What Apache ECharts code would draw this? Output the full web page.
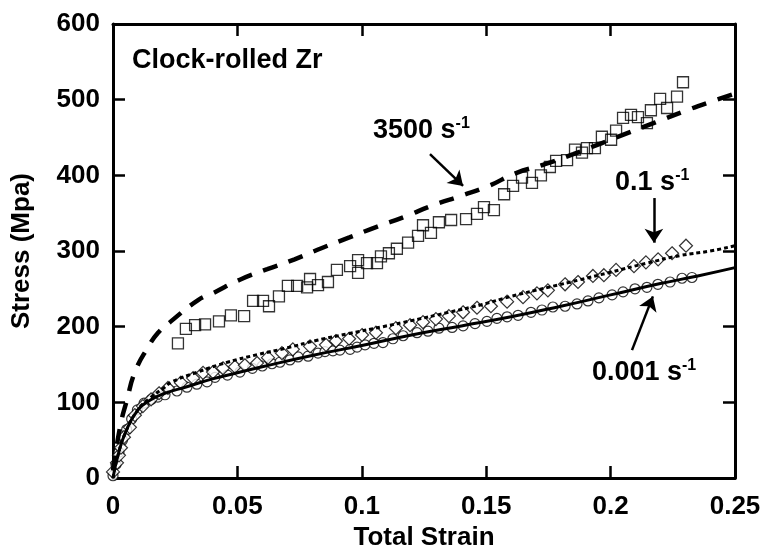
<!DOCTYPE html>
<html>
<head>
<meta charset="UTF-8">
<title>Clock-rolled Zr</title>
<script src="https://cdn.jsdelivr.net/npm/echarts@6/dist/echarts.min.js"></script>
<style>
html, body { margin: 0; padding: 0; background: #fff; }
#main { width: 763px; height: 553px; }
</style>
</head>
<body>
<div id="main"></div>
<script>
// strain / stress (MPa)
var sq3500 = [[0.0261,178],[0.0293,197],[0.0330,202],[0.0370,203],[0.0426,207],[0.0474,215],[0.0527,214],
  [0.0563,234],[0.0603,234],[0.0627,227],[0.0667,240],[0.0703,254],[0.0740,254],[0.0780,252],[0.0792,263],
  [0.0824,255],[0.0864,259],[0.0900,275],[0.0953,280],[0.0985,288],[0.0985,271],[0.1021,284],[0.1061,284],
  [0.1077,293],[0.1109,297],[0.1141,303],[0.1186,311],[0.1226,320],[0.1246,334],[0.1278,324],[0.1310,338],
  [0.1359,341],[0.1419,342],[0.1463,349],[0.1491,358],[0.1531,354],[0.1572,375],[0.1608,386],[0.1644,397],
  [0.1684,390],[0.1720,400],[0.1756,411],[0.1781,419],[0.1825,420],[0.1857,434],[0.1885,430],[0.1905,436],
  [0.1937,436],[0.1965,451],[0.2002,447],[0.2022,459],[0.2050,476],[0.2082,480],[0.2110,477],[0.2146,469],
  [0.2162,486],[0.2199,501],[0.2227,489],[0.2267,504],[0.2291,523]];
var fit3500 = [[0,10],[0.003,70],[0.0056,103],[0.0088,140],[0.0141,173],[0.0181,192],[0.0229,206],[0.0342,235],
  [0.040,244],[0.051,262],[0.062,276],[0.073,289],[0.084,304],[0.095,318],[0.106,332],[0.117,345],[0.129,361],
  [0.140,373],[0.151,386],[0.162,403],[0.173,414],[0.185,428],[0.196,442],[0.207,456],[0.218,470],[0.229,484],
  [0.240,497],[0.25,508]];
var dia01 = [[0,8],[0.0016,20],[0.0024,30],[0.0032,40],[0.0044,54],[0.0068,67],[0.0088,83],[0.012,95],
  [0.0153,104],[0.0185,112],[0.0221,119],[0.0273,126],[0.0322,132],[0.0362,139],[0.0402,140],[0.0442,145],
  [0.049,147],[0.053,149],[0.0579,152],[0.0623,159],[0.0679,165],[0.0723,170],[0.0792,174],[0.0856,176],
  [0.0896,181],[0.0949,184],[0.1001,189],[0.1057,192],[0.1137,198],[0.1194,202],[0.1246,206],[0.1298,210],
  [0.1350,214],[0.1407,219],[0.1463,225],[0.1519,227],[0.1584,233],[0.1648,239],[0.1704,244],[0.1748,248],
  [0.1817,256],[0.1869,259],[0.1929,267],[0.1973,268],[0.2022,275],[0.2094,280],[0.2142,285],[0.2191,289],
  [0.2247,297],[0.2303,307]];
var fit01 = [[0,0],[0.002,30],[0.005,60],[0.01,90],[0.015,106],[0.02,118],[0.0237,127],[0.034,140],[0.046,153],
  [0.058,163],[0.07,172],[0.082,182],[0.095,191],[0.1085,200],[0.12,208],[0.135,219],[0.148,229],[0.16,240],
  [0.175,252],[0.1877,262],[0.2,272],[0.2146,284],[0.228,294],[0.24,300],[0.25,307]];
var cir0001 = [[0,3],[0.0012,18],[0.0024,34],[0.0038,50],[0.0055,64],[0.0075,78],[0.0098,90],[0.0125,99],
  [0.0155,104],[0.018,107],[0.0209,110],[0.0257,115],[0.0297,120],[0.0337,124],[0.0378,127],[0.0410,133],
  [0.046,136],[0.051,140],[0.0560,145],[0.0600,148],[0.0639,151],[0.0671,153],[0.0711,156],[0.0744,160],
  [0.0784,161],[0.0824,165],[0.0852,167],[0.0884,168],[0.0912,169],[0.0953,170],[0.0981,173],[0.1013,176],
  [0.1049,178],[0.1085,179],[0.1125,184],[0.1166,188],[0.1222,192],[0.1266,194],[0.131,198],[0.1363,199],
  [0.1407,201],[0.1455,204],[0.1503,207],[0.1543,211],[0.1584,213],[0.1628,215],[0.168,219],[0.1724,222],
  [0.1768,226],[0.1817,227],[0.1865,230],[0.1909,234],[0.1953,238],[0.2006,242],[0.205,246],[0.2098,250],
  [0.2146,252],[0.219,256],[0.2239,259],[0.2287,264],[0.2327,265]];
var fit0001 = [[0,0],[0.002,30],[0.005,60],[0.01,90],[0.015,103],[0.02,111],[0.03,121],[0.04,131],[0.05,139],
  [0.06,147],[0.08,162],[0.1,175],[0.12,189],[0.14,201],[0.16,213],[0.18,227],[0.2,242],[0.22,257],
  [0.235,267],[0.25,278]];

// annotation anchors (data coordinates)
var arrows = [
  [[0.1274, 428], [0.1407, 386]],
  [[0.2174, 370], [0.2174, 311]],
  [[0.2086, 169], [0.2170, 240]]
];
var notes = [
  { at: [0.0076, 550], main: 'Clock-rolled Zr', sup: '' },
  { at: [0.1045, 459], main: '3500 s', sup: '-1' },
  { at: [0.2018, 390], main: '0.1 s', sup: '-1' },
  { at: [0.1925, 139], main: '0.001 s', sup: '-1' }
];

var font = 'Liberation Sans, Arial, Helvetica, sans-serif';
var chart = echarts.init(document.getElementById('main'));

var axisCommon = {
  axisLine: { onZero: false, lineStyle: { color: '#000', width: 3 } },
  axisTick: { inside: true, length: 12, lineStyle: { color: '#000', width: 2.5 } },
  splitLine: { show: false }
};

var option = {
  animation: false,
  backgroundColor: '#fff',
  grid: { left: 113, right: 28, top: 24, bottom: 75, containLabel: false, outerBoundsMode: 'none' },
  xAxis: [
    Object.assign({}, axisCommon, {
      type: 'value', min: 0, max: 0.25, interval: 0.05, position: 'bottom',
      name: 'Total Strain', nameLocation: 'middle', nameGap: 45,
      nameTextStyle: { fontFamily: font, fontWeight: 'bold', fontSize: 26, color: '#000' },
      axisLabel: { margin: 16, fontFamily: font, fontWeight: 'bold', fontSize: 26, color: '#000' }
    }),
    Object.assign({}, axisCommon, {
      type: 'value', min: 0, max: 0.25, interval: 0.05, position: 'top',
      axisLabel: { show: false }
    })
  ],
  yAxis: [
    Object.assign({}, axisCommon, {
      type: 'value', min: 0, max: 600, interval: 100, position: 'left',
      name: 'Stress (Mpa)', nameLocation: 'middle', nameGap: 78,
      nameTextStyle: { fontFamily: font, fontWeight: 'bold', fontSize: 26, color: '#000' },
      axisLabel: { margin: 13, fontFamily: font, fontWeight: 'bold', fontSize: 26, color: '#000' }
    }),
    Object.assign({}, axisCommon, {
      type: 'value', min: 0, max: 600, interval: 100, position: 'right',
      axisLabel: { show: false }
    })
  ],
  series: [
    { type: 'line', data: fit3500, smooth: true, symbol: 'none',
      lineStyle: { color: '#000', width: 4.5, type: [15, 12], cap: 'butt' } },
    { type: 'line', data: fit01, smooth: true, symbol: 'none',
      lineStyle: { color: '#000', width: 3, type: [4, 3], cap: 'butt' } },
    { type: 'line', data: fit0001, smooth: true, symbol: 'none',
      lineStyle: { color: '#000', width: 3 } },
    { type: 'scatter', data: sq3500, symbol: 'rect', symbolSize: 11,
      itemStyle: { color: 'rgba(255,255,255,0)', borderColor: '#000', borderWidth: 1.3 } },
    { type: 'scatter', data: cir0001, symbol: 'circle', symbolSize: 10,
      itemStyle: { color: '#fff', borderColor: '#000', borderWidth: 1.2 } },
    { type: 'scatter', data: dia01, symbol: 'diamond', symbolSize: 13,
      itemStyle: { color: '#fff', borderColor: '#000', borderWidth: 1.2 } },
    { type: 'line', data: [], symbol: 'none',
      markLine: {
        silent: true, symbol: ['none', 'arrow'], symbolSize: 14,
        label: { show: false },
        lineStyle: { color: '#000', width: 2.5, type: 'solid' },
        data: arrows.map(function (a) { return [{ coord: a[0] }, { coord: a[1] }]; })
      } }
  ]
};
chart.setOption(option);

var graphics = notes.map(function (n) {
  var p = chart.convertToPixel({ xAxisIndex: 0, yAxisIndex: 0 }, n.at);
  return {
    type: 'text', left: p[0], top: p[1] - 15, z: 100,
    style: {
      text: n.sup ? '{m|' + n.main + '}{s|' + n.sup + '}' : '{m|' + n.main + '}',
      rich: {
        m: { fontFamily: font, fontWeight: 'bold', fontSize: 27, lineHeight: 30, fill: '#000' },
        s: { fontFamily: font, fontWeight: 'bold', fontSize: 16, lineHeight: 16, verticalAlign: 'top', fill: '#000' }
      }
    }
  };
});
chart.setOption({ graphic: graphics });
</script>
</body>
</html>
